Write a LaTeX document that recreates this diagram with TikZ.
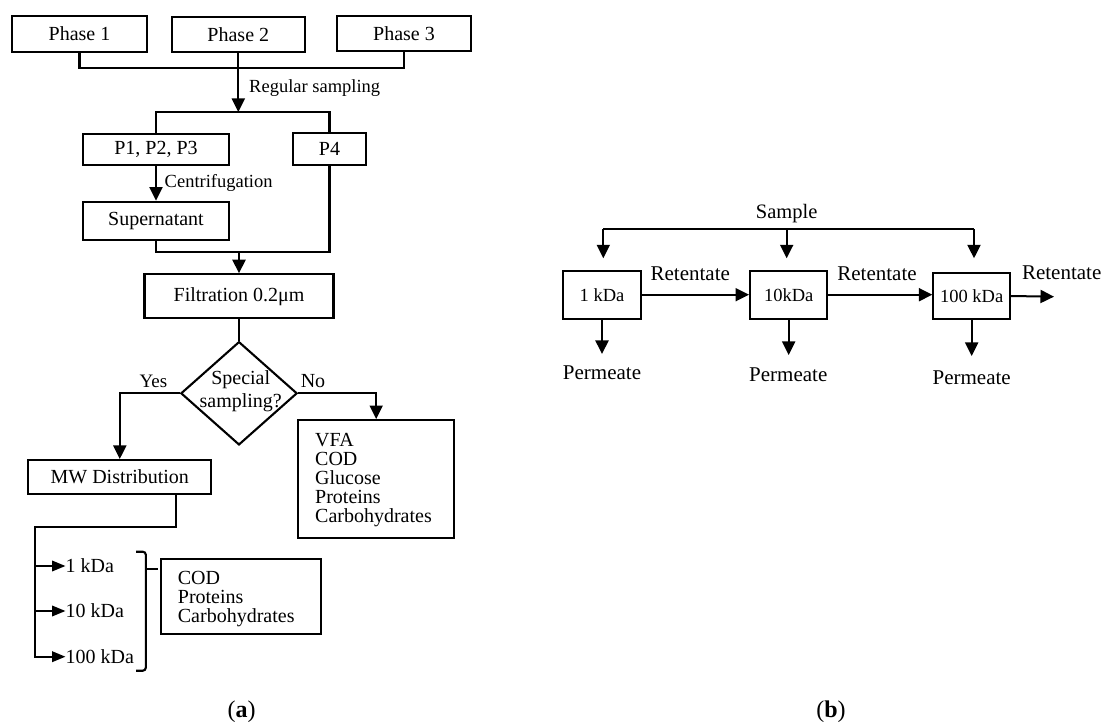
\documentclass[tikz,border=0pt]{standalone}
\usepackage{fontspec}
\setmainfont{Liberation Serif}
\usetikzlibrary{arrows.meta,shapes.geometric,calc}
\newcommand\fsz[2]{\fontsize{#1}{#2}\selectfont}
\begin{document}
\begin{tikzpicture}[x=1pt,y=-1pt,
  box/.style={draw,line width=2.1pt,inner sep=0pt,font=\fsz{20}{22}},
  bbox/.style={draw,line width=2pt,inner sep=0pt,font=\fsz{18.5}{20}},
  ln/.style={line width=2.1pt},
  arr/.style={line width=2.1pt,-{Triangle[length=13.5pt,width=13pt]}},
  sarr/.style={line width=2.1pt,-{Triangle[length=13.5pt,width=10.5pt]}},
  lbl/.style={inner sep=0pt,font=\fsz{20}{22}},
  slbl/.style={inner sep=0pt,font=\fsz{18.5}{20}},
  blbl/.style={inner sep=0pt,font=\fsz{21}{23}},
]
\useasboundingbox (0,0) rectangle (1104,722);

% ---------- (a) ----------
\node[box,minimum width=134.4pt,minimum height=36pt] (ph1) at (79.5,33.7) {Phase 1};
\node[box,minimum width=133.3pt,minimum height=35pt] (ph2) at (238.3,34.3) {Phase 2};
\node[box,minimum width=133.4pt,minimum height=35pt] (ph3) at (404,33.2) {Phase 3};

\coordinate (j1) at (238.3,67.7);
\coordinate (j2) at (238.3,112);
\draw[ln] (ph1.south) -- (ph1.south |- j1) -- (ph3.south |- j1) -- (ph3.south);
\draw[arr] (ph2.south) -- (j2);
\node[slbl,anchor=west] (regs) at (249,88) {Regular sampling};

\node[box,minimum width=146.6pt,minimum height=30.7pt] (p123) at (156,149.7) {P1, P2, P3};
\node[box,minimum width=72.4pt,minimum height=31.7pt] (p4) at (329.5,149.2) {P4};
\draw[ln] (p123.north) -- (p123.north |- j2) -- (p4.north |- j2) -- (p4.north);

\node[box,minimum width=146.6pt,minimum height=38.3pt] (sup) at (156,220.8) {Supernatant};
\draw[arr] (p123.south) -- (sup.north);
\node[slbl,anchor=west] (centr) at (164.5,182.7) {Centrifugation};

\node[box,minimum width=189pt,minimum height=44pt] (filt) at (239,296.3) {Filtration 0.2μm};
\coordinate (j3) at (239,252.3);
\draw[ln] (sup.south) -- (sup.south |- j3) -- (p4.south |- j3) -- (p4.south);
\draw[arr] (j3) -- (filt.north);

\node[draw,diamond,line width=2.1pt,minimum width=116.3pt,minimum height=103.3pt,inner sep=0pt] (dia) at (239,393.3) {};
\node[inner sep=0pt,align=center,font=\fsz{20}{23}] (spq) at (240.7,391) {Special\\sampling?};
\draw[ln] (filt.south) -- (dia.north);

\node[box,minimum width=183pt,minimum height=34pt] (mw) at (119.8,477) {MW Distribution};
\node[box,minimum width=155.7pt,minimum height=118.3pt] (vfa) at (376.2,479.2) {};
\node[inner sep=0pt,anchor=west,align=left,font=\fsz{20}{19.2}] (vfat) at (315,480) {VFA\\COD\\Glucose\\Proteins\\Carbohydrates};

\draw[arr] (dia.west) -| (mw.north);
\draw[arr] (dia.east) -| (vfa.north);
\node[slbl,font=\fsz{19}{20}] (yes) at (153.5,381.7) {Yes};
\node[lbl] (no) at (313,381) {No};

\node[lbl,anchor=west] (k1) at (65.5,566) {1 kDa};
\node[lbl,anchor=west] (k10) at (65.5,611) {10 kDa};
\node[lbl,anchor=west] (k100) at (65.5,656.7) {100 kDa};
\coordinate (j4) at (35,527.3);
\draw[sarr] ([xshift=-36.3pt]mw.south east) |- (j4) |- (k100.west);
\draw[sarr] (j4 |- k1.west) -- (k1.west);
\draw[sarr] (j4 |- k10.west) -- (k10.west);

\node[box,minimum width=160pt,minimum height=75pt] (cod) at (240.7,596.8) {};
\node[inner sep=0pt,anchor=west,align=left,font=\fsz{20}{19.3}] (codt) at (177.7,599) {COD\\Proteins\\Carbohydrates};

\draw[ln,rounded corners=3pt] (136,551.7) -- (145.8,551.7) -- (145.8,670.7) -- (136,670.7);
\coordinate (brk) at (145.8,569.3);
\draw[ln] (brk) -- ([xshift=-2pt]brk -| cod.west);

\node[lbl,font=\fsz{24}{26}] (capa) at (241.5,711.5) {(\textbf{a})};

% ---------- (b) ----------
\node[blbl,font=\fsz{20.5}{22}] (sample) at (786.7,214) {Sample};
\node[bbox,minimum width=77.4pt,minimum height=48pt] (b1) at (602,294.7) {1 kDa};
\node[bbox,minimum width=77.3pt,minimum height=48pt] (b2) at (788.7,294.7) {10kDa};
\node[bbox,minimum width=76.7pt,minimum height=45.4pt] (b3) at (971.7,296) {100 kDa};

\coordinate (sl) at (603.3,229);
\coordinate (sr) at (974,229);
\draw[ln,line width=2pt] (sl) -- (sr);
\draw[arr,line width=2pt] (sl) -- ([yshift=11.4pt]b1.north -| sl);
\draw[arr,line width=2pt] (sample.south |- sl) -- ([yshift=11.4pt]b2.north -| sample.south);
\draw[arr,line width=2pt] (sr) -- ([yshift=14pt]b3.north -| sr);

\draw[arr,line width=2pt] (b1.east) -- (b2.west);
\draw[arr,line width=2pt] (b2.east) -- (b2.east -| b3.west);
\coordinate (rout) at (1054,296.7);
\draw[arr,line width=2pt] (b3.east) -- (rout);

\node[blbl] (r1) at (690.3,274) {Retentate};
\node[blbl] (r2) at (877,274) {Retentate};
\node[blbl] (r3) at (1061.7,272.7) {Retentate};

\node[blbl] (pm1) at (602,373) {Permeate};
\node[blbl] (pm2) at (788.3,375) {Permeate};
\node[blbl] (pm3) at (971.7,378) {Permeate};
\draw[arr,line width=2pt] (b1.south) -- (b1.south |- 0,354);
\draw[arr,line width=2pt] (b2.south) -- (b2.south |- 0,355);
\draw[arr,line width=2pt] (b3.south) -- (b3.south |- 0,356);

\node[lbl,font=\fsz{24}{26}] (capb) at (831,711.5) {(\textbf{b})};
\end{tikzpicture}
\end{document}
